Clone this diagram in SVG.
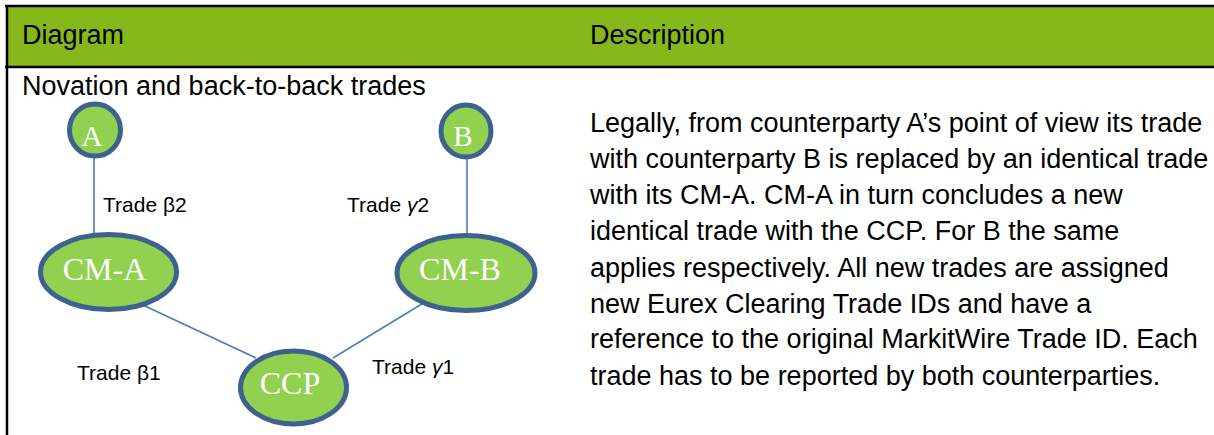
<svg xmlns="http://www.w3.org/2000/svg" width="1214" height="435" viewBox="0 0 1214 435">
<style>
.hdr{font-family:"Liberation Sans",Arial,sans-serif;font-size:27px;fill:#000}
.body{font-family:"Liberation Sans",Arial,sans-serif;font-size:27px;fill:#000}
.lbl{font-family:"Liberation Sans",Arial,sans-serif;font-size:21px;fill:#000}
.node ellipse{fill:#92d050;stroke:#3e6290;stroke-width:5}
.node text{font-family:"Liberation Serif","Times New Roman",serif;fill:#fff;text-anchor:middle}
.conn line{stroke:#4a7ebb;stroke-width:1.6}
</style>
<rect x="7" y="6" width="1207" height="61" fill="#86b81b"/>
<line x1="5" y1="6" x2="1214" y2="6" stroke="#000" stroke-width="2.5"/>
<line x1="5" y1="67" x2="1214" y2="67" stroke="#000" stroke-width="2.5"/>
<line x1="7" y1="5" x2="7" y2="435" stroke="#000" stroke-width="2.5"/>
<text class="hdr" x="22" y="44">Diagram</text>
<text class="hdr" x="590" y="44">Description</text>
<text class="hdr" x="22" y="95">Novation and back-to-back trades</text>
<g class="conn">
<line x1="94" y1="156" x2="94" y2="234"/>
<line x1="467" y1="156" x2="467" y2="234"/>
<line x1="130" y1="299" x2="256" y2="358"/>
<line x1="430" y1="299" x2="333" y2="358"/>
</g>
<text class="lbl" x="103" y="212">Trade β2</text>
<text class="lbl" x="347" y="212">Trade <tspan font-style="italic">γ</tspan>2</text>
<text class="lbl" x="77" y="380">Trade β1</text>
<text class="lbl" x="372" y="374">Trade <tspan font-style="italic">γ</tspan>1</text>
<g id="node-A" class="node"><ellipse cx="95" cy="130" rx="25.5" ry="26"/><text x="92" y="146" font-size="29">A</text></g>
<g id="node-B" class="node"><ellipse cx="466" cy="131" rx="25" ry="26"/><text x="463" y="146" font-size="29">B</text></g>
<g id="node-CMA" class="node"><ellipse cx="108.5" cy="272" rx="68" ry="37.5"/><text x="104.5" y="280" font-size="32">CM-A</text></g>
<g id="node-CMB" class="node"><ellipse cx="466" cy="273" rx="69" ry="37.5"/><text x="460" y="280" font-size="32">CM-B</text></g>
<g id="node-CCP" class="node"><ellipse cx="293.5" cy="387.5" rx="53" ry="36.5"/><text x="290" y="394" font-size="32">CCP</text></g>
<g class="body">
<text x="590" y="132">Legally, from counterparty A’s point of view its trade</text>
<text x="590" y="168">with counterparty B is replaced by an identical trade</text>
<text x="590" y="204">with its CM-A. CM-A in turn concludes a new</text>
<text x="590" y="240">identical trade with the CCP. For B the same</text>
<text x="590" y="277">applies respectively. All new trades are assigned</text>
<text x="590" y="313">new Eurex Clearing Trade IDs and have a</text>
<text x="590" y="348">reference to the original MarkitWire Trade ID. Each</text>
<text x="590" y="385">trade has to be reported by both counterparties.</text>
</g>
</svg>
